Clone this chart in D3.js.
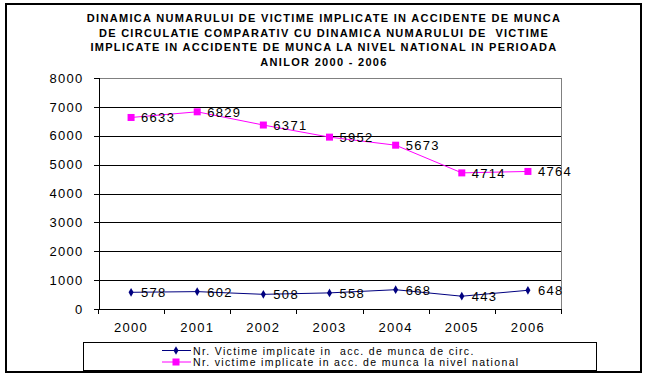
<html><head>
<script src="https://d3js.org/d3.v7.min.js"></script>
<style>
body { margin: 0; background: #fff; }
svg text { font-family: 'Liberation Sans', Arial, sans-serif; }
</style>
</head>
<body>
<svg id="chart" width="648" height="378"></svg>
<script>
// chart data
const years = ['2000', '2001', '2002', '2003', '2004', '2005', '2006'];
const circValues = [578, 602, 508, 558, 668, 443, 648];
const nationalValues = [6633, 6829, 6371, 5952, 5673, 4714, 4764];
const yTicks = [0, 1000, 2000, 3000, 4000, 5000, 6000, 7000, 8000];
const titleLines = [
  'DINAMICA NUMARULUI DE VICTIME IMPLICATE IN ACCIDENTE DE MUNCA',
  'DE CIRCULATIE COMPARATIV CU DINAMICA NUMARULUI DE  VICTIME',
  'IMPLICATE IN ACCIDENTE DE MUNCA LA NIVEL NATIONAL IN PERIOADA',
  'ANILOR 2000 - 2006'
];
const legendLabels = [
  'Nr. Victime implicate in  acc. de munca de circ.',
  'Nr. victime implicate in acc. de munca la nivel national'
];

const svg = d3.select('#chart');
const plot = { left: 98, right: 561, top: 78, bottom: 309 };

const x = d3.scaleBand().domain(years).range([plot.left, plot.right]).paddingInner(0).paddingOuter(0);
const y = d3.scaleLinear().domain([0, 8000]).range([plot.bottom, plot.top]);
const cx = d => x(d) + x.bandwidth() / 2;

// outer frame
svg.append('rect')
  .attr('x', 6).attr('y', 4).attr('width', 635).attr('height', 368)
  .attr('fill', 'none').attr('stroke', '#000').attr('stroke-width', 2);

// title
svg.append('g').selectAll('text').data(titleLines).join('text')
  .attr('x', 324).attr('y', (d, i) => 22 + i * 14.5)
  .attr('text-anchor', 'middle')
  .attr('font-size', 11).attr('font-weight', 'bold')
  .attr('letter-spacing', 1.3)
  .style('white-space', 'pre')
  .text(d => d);

// gridlines
svg.append('g').selectAll('line').data(yTicks.filter(t => t > 0)).join('line')
  .attr('x1', plot.left).attr('x2', plot.right)
  .attr('y1', d => Math.round(y(d)) + 0.5).attr('y2', d => Math.round(y(d)) + 0.5)
  .attr('stroke', d => d === 8000 ? '#808080' : '#000')
  .attr('shape-rendering', 'crispEdges');

// right border of plot area
svg.append('line')
  .attr('x1', plot.right + 0.5).attr('x2', plot.right + 0.5)
  .attr('y1', plot.top).attr('y2', plot.bottom)
  .attr('stroke', '#808080').attr('shape-rendering', 'crispEdges');

// y axis
const yAxis = d3.axisLeft(y).tickValues(yTicks).tickSize(5).tickPadding(10).tickFormat(d3.format('d'));
const gy = svg.append('g').attr('transform', `translate(${plot.left + 0.5},0)`).call(yAxis);
gy.select('.domain').attr('stroke', '#000').attr('shape-rendering', 'crispEdges');
gy.selectAll('.tick line').attr('stroke', '#000').attr('shape-rendering', 'crispEdges');
gy.selectAll('.tick text').attr('font-size', 13).attr('letter-spacing', 1.3)
  .attr('font-family', "'Liberation Sans', Arial, sans-serif").attr('fill', '#000');

// x axis
const gx = svg.append('g').attr('transform', `translate(0,${plot.bottom + 0.5})`);
gx.append('line').attr('x1', plot.left).attr('x2', plot.right + 1)
  .attr('stroke', '#000').attr('shape-rendering', 'crispEdges');
const boundaries = years.map(d => x(d)).concat([plot.right]);
gx.selectAll('line.tk').data(boundaries).join('line').attr('class', 'tk')
  .attr('x1', d => Math.round(d) + 0.5).attr('x2', d => Math.round(d) + 0.5)
  .attr('y1', 0).attr('y2', 4)
  .attr('stroke', '#000').attr('shape-rendering', 'crispEdges');
gx.selectAll('text').data(years).join('text')
  .attr('x', d => cx(d)).attr('y', 22)
  .attr('text-anchor', 'middle').attr('font-size', 13).attr('letter-spacing', 1.3)
  .text(d => d);

// series
const line = d3.line().x((d, i) => cx(years[i])).y(d => y(d));

function drawSeries(values, color, shape) {
  const g = svg.append('g');
  g.append('path').datum(values).attr('d', line)
    .attr('fill', 'none').attr('stroke', color).attr('stroke-width', 1);
  if (shape === 'square') {
    g.selectAll('rect').data(values).join('rect')
      .attr('x', (d, i) => cx(years[i]) - 3.5).attr('y', d => y(d) - 3.5)
      .attr('width', 7).attr('height', 7).attr('fill', color);
  } else {
    g.selectAll('path.m').data(values).join('path').attr('class', 'm')
      .attr('d', d3.symbol().type(d3.symbolDiamond).size(22))
      .attr('transform', (d, i) => `translate(${cx(years[i])},${y(d)})`)
      .attr('fill', color);
  }
  g.selectAll('text').data(values).join('text')
    .attr('x', (d, i) => cx(years[i]) + 10).attr('y', d => y(d) + 5)
    .attr('font-size', 13).attr('letter-spacing', 1.3).attr('fill', '#000')
    .text(d => d);
}

drawSeries(circValues, '#000080', 'diamond');
drawSeries(nationalValues, '#FF00FF', 'square');

// legend
const legend = svg.append('g');
legend.append('rect')
  .attr('x', 83.5).attr('y', 342.5).attr('width', 513).attr('height', 28)
  .attr('fill', '#fff').attr('stroke', '#000').attr('shape-rendering', 'crispEdges');
const legendItems = [
  { label: legendLabels[0], color: '#000080', shape: 'diamond' },
  { label: legendLabels[1], color: '#FF00FF', shape: 'square' }
];
legendItems.forEach((item, i) => {
  const ly = 350.5 + i * 11.5;
  legend.append('line').attr('x1', 162).attr('x2', 191).attr('y1', ly).attr('y2', ly)
    .attr('stroke', item.color);
  if (item.shape === 'square') {
    legend.append('rect').attr('x', 172.5).attr('y', ly - 3.5).attr('width', 7).attr('height', 7)
      .attr('fill', item.color);
  } else {
    legend.append('path').attr('d', d3.symbol().type(d3.symbolDiamond).size(22))
      .attr('transform', `translate(176,${ly})`).attr('fill', item.color);
  }
  legend.append('text').attr('x', 193).attr('y', ly + 4)
    .attr('font-size', 10.5).attr('letter-spacing', 1.35)
    .style('white-space', 'pre')
    .text(item.label);
});
</script>
</body></html>
